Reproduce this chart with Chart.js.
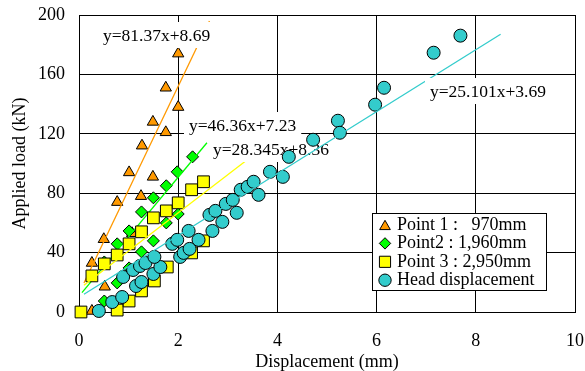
<!DOCTYPE html>
<html>
<head>
<meta charset="utf-8">
<script src="https://cdn.jsdelivr.net/npm/chart.js@4/dist/chart.umd.min.js"></script>
<style>
  html, body { margin: 0; padding: 0; background: #fff; }
  canvas { display: block; }
</style>
</head>
<body>
<canvas id="chart" width="585" height="371" style="width:585px;height:371px"></canvas>
<script>
/* Load (kN) vs displacement (mm) at three measuring points and the pile head */

/* Point 1 : 970mm (triangles) */
var P1_X = [0.26, 0.52, 0.26, 0.50, 1.07, 0.77, 1.25, 1.01, 1.49, 1.27, 1.75, 1.49, 2.00, 1.75, 2.00];
var P1_Y = [0.7, 17, 33, 49, 53, 74, 78, 94, 91, 112, 121, 128, 138, 151, 174];

/* Point2 : 1,960mm (diamonds) */
var P2_X = [0.51, 0.77, 1.01, 1.26, 0.51, 0.77, 1.50, 1.01, 1.76, 1.26, 2.00, 1.50, 1.76, 1.98, 2.29];
var P2_Y = [7.4, 19.6, 29.7, 40.5, 33.7, 45.9, 47.9, 54.6, 60, 67.4, 66, 76.9, 85, 94.4, 104.5];

/* Point 3 : 2,950mm (squares) */
var P3_X = [0.04, 0.26, 0.51, 0.77, 1.01, 1.26, 1.50, 1.76, 2.00, 2.27, 2.51,
            0.77, 1.01, 1.26, 1.52, 1.78, 2.27, 2.51];
var P3_Y = [0, 24.3, 32.4, 38.4, 45.9, 54, 63.4, 68.1, 73.5, 82.3, 87.7,
            1.3, 7.4, 14.2, 20.9, 30.3, 39.8, 47.9];

/* Head displacement (circles) */
var HEAD_X = [0.40, 0.67, 0.87, 1.15, 1.26, 1.50, 1.64, 0.89, 1.09, 1.23, 1.34, 1.52, 1.88, 1.98,
              2.04, 2.11, 2.23, 2.41, 2.21, 2.69, 2.63, 2.75, 2.89, 2.96, 3.10, 3.18, 3.26, 3.40,
              3.52, 3.62, 3.85, 4.11, 4.23, 4.72, 5.22, 5.26, 5.97, 6.15, 7.15, 7.69];
var HEAD_Y = [0.7, 6.7, 10.1, 17.5, 20.2, 25.6, 30.3, 23.6, 28.3, 31.0, 33.0, 37.1, 45.9, 48.6,
              37.1, 39.8, 42.5, 48.6, 54.6, 54.6, 65.4, 68.1, 60.7, 72.8, 75.5, 66.8, 82.3, 84.3,
              87.7, 78.9, 94.4, 91.0, 104.5, 116.0, 128.8, 120.7, 139.6, 151.0, 174.6, 186.1];

/* Trendline end points as drawn, [start, end] */
var TREND1_X = [0.10, 2.63], TREND1_Y = [19.5, 196];
var TREND2_X = [0.06, 2.58], TREND2_Y = [13, 114];
var TREND3_X = [0.10, 3.53], TREND3_Y = [18, 106];
var TREND4_X = [0.10, 8.50], TREND4_Y = [12, 187];

var EQUATIONS = ['y=81.37x+8.69', 'y=46.36x+7.23', 'y=28.345x+8.36', 'y=25.101x+3.69'];
var SERIES_NAMES = ['Point 1 :   970mm', 'Point2 : 1,960mm', 'Point 3 : 2,950mm', 'Head displacement'];

var X_TICKS = [0, 2, 4, 6, 8, 10];
var Y_TICKS = [0, 40, 80, 120, 160, 200];

var SERIF = "'Liberation Serif', 'Times New Roman', serif";
var COLOURS = ['#FF9900', '#00FF00', '#FFFF00', '#33CCCC'];
var STYLES = ['triangle', 'rectRot', 'rect', 'circle'];
var RADII = [6.5, 6, 8.3, 6.5];

/* where each equation label sits: left edge and vertical centre in px */
var LABEL_POS = [[103, 36], [189, 126], [213, 150], [430, 92]];

function pts(xs, ys) {
  return xs.map(function(x, i) { return { x: x, y: ys[i] }; });
}

function markers(i, label, xs, ys, order) {
  return {
    label: label,
    data: pts(xs, ys),
    pointStyle: STYLES[i],
    pointRadius: RADII[i],
    backgroundColor: COLOURS[i],
    borderColor: '#000',
    borderWidth: 1,
    showLine: false,
    clip: false,
    order: order
  };
}

function trend(i, xs, ys, order) {
  return {
    label: 'trend' + i,
    data: pts(xs, ys),
    showLine: true,
    pointRadius: 0,
    borderColor: COLOURS[i],
    borderWidth: 1.3,
    fill: false,
    eqIndex: i,
    order: order
  };
}

/* equation label drawn right after its own trendline, on a white box */
var equationPlugin = {
  id: 'equations',
  afterDatasetDraw: function(chart, args) {
    var ds = chart.data.datasets[args.index];
    if (ds.eqIndex === undefined) return;
    var ctx = chart.ctx;
    var text = EQUATIONS[ds.eqIndex];
    var pos = LABEL_POS[ds.eqIndex];
    ctx.save();
    ctx.font = '17.5px ' + SERIF;
    var w = ctx.measureText(text).width;
    ctx.fillStyle = '#fff';
    ctx.fillRect(pos[0] - 5, pos[1] - 14, w + 10, 26);
    ctx.fillStyle = '#000';
    ctx.textBaseline = 'middle';
    ctx.fillText(text, pos[0], pos[1]);
    ctx.restore();
  }
};

/* legend box inside the plot, lower right */
var legendPlugin = {
  id: 'boxLegend',
  afterDraw: function(chart) {
    var ctx = chart.ctx;
    var left = 372, top = 213, right = 546, bottom = 290;
    ctx.save();
    ctx.fillStyle = '#fff';
    ctx.fillRect(left, top, right - left, bottom - top);
    ctx.strokeStyle = '#000';
    ctx.lineWidth = 1;
    ctx.strokeRect(left + 0.5, top + 0.5, right - left, bottom - top);
    ctx.font = '18px ' + SERIF;
    ctx.textBaseline = 'middle';
    SERIES_NAMES.forEach(function(name, i) {
      var y = top + 12 + i * 18.4;
      ctx.fillStyle = COLOURS[i];
      ctx.strokeStyle = '#000';
      ctx.lineWidth = 1;
      Chart.helpers.drawPoint(ctx, {
        pointStyle: STYLES[i],
        radius: RADII[i] * 0.95,
        rotation: 0,
        borderWidth: 1
      }, 385, y + (i === 0 ? 1.5 : 0));
      ctx.fillStyle = '#000';
      ctx.fillText(name, 397, y);
    });
    ctx.restore();
  }
};

new Chart(document.getElementById('chart').getContext('2d'), {
  type: 'scatter',
  data: {
    datasets: [
      markers(0, SERIES_NAMES[0], P1_X, P1_Y, 8),
      trend(0, TREND1_X, TREND1_Y, 7),
      markers(1, SERIES_NAMES[1], P2_X, P2_Y, 6),
      trend(1, TREND2_X, TREND2_Y, 5),
      markers(2, SERIES_NAMES[2], P3_X, P3_Y, 4),
      trend(2, TREND3_X, TREND3_Y, 3),
      markers(3, SERIES_NAMES[3], HEAD_X, HEAD_Y, 2),
      trend(3, TREND4_X, TREND4_Y, 1)
    ]
  },
  options: {
    responsive: false,
    animation: false,
    devicePixelRatio: 1,
    layout: {
      padding: { left: 9, top: 15, right: 10, bottom: 0 }
    },
    scales: {
      x: {
        type: 'linear',
        min: X_TICKS[0],
        max: X_TICKS[X_TICKS.length - 1],
        afterBuildTicks: function(scale) {
          scale.ticks = X_TICKS.map(function(v) { return { value: v }; });
        },
        afterFit: function(scale) {
          scale.height = 59;
          scale.paddingLeft = 0;
          scale.paddingRight = 0;
        },
        ticks: {
          font: { family: SERIF, size: 18 },
          color: '#000',
          padding: 18,
          maxRotation: 0
        },
        grid: { color: '#000', lineWidth: 1, drawTicks: false },
        border: { color: '#000', width: 1 },
        title: {
          display: true,
          text: 'Displacement (mm)',
          font: { family: SERIF, size: 18, lineHeight: 1.0 },
          color: '#000',
          padding: 0
        }
      },
      y: {
        type: 'linear',
        min: Y_TICKS[0],
        max: Y_TICKS[Y_TICKS.length - 1],
        afterBuildTicks: function(scale) {
          scale.ticks = Y_TICKS.map(function(v) { return { value: v }; });
        },
        afterFit: function(scale) {
          scale.width = 70;
          scale.paddingTop = 0;
          scale.paddingBottom = 0;
        },
        ticks: {
          font: { family: SERIF, size: 18 },
          color: '#000',
          padding: 14
        },
        grid: { color: '#000', lineWidth: 1, drawTicks: false },
        border: { color: '#000', width: 1 },
        title: {
          display: true,
          text: 'Applied load (kN)',
          font: { family: SERIF, size: 18 },
          color: '#000',
          padding: 0
        }
      }
    },
    plugins: {
      legend: { display: false },
      tooltip: { enabled: false }
    }
  },
  plugins: [equationPlugin, legendPlugin]
});
</script>
</body>
</html>
